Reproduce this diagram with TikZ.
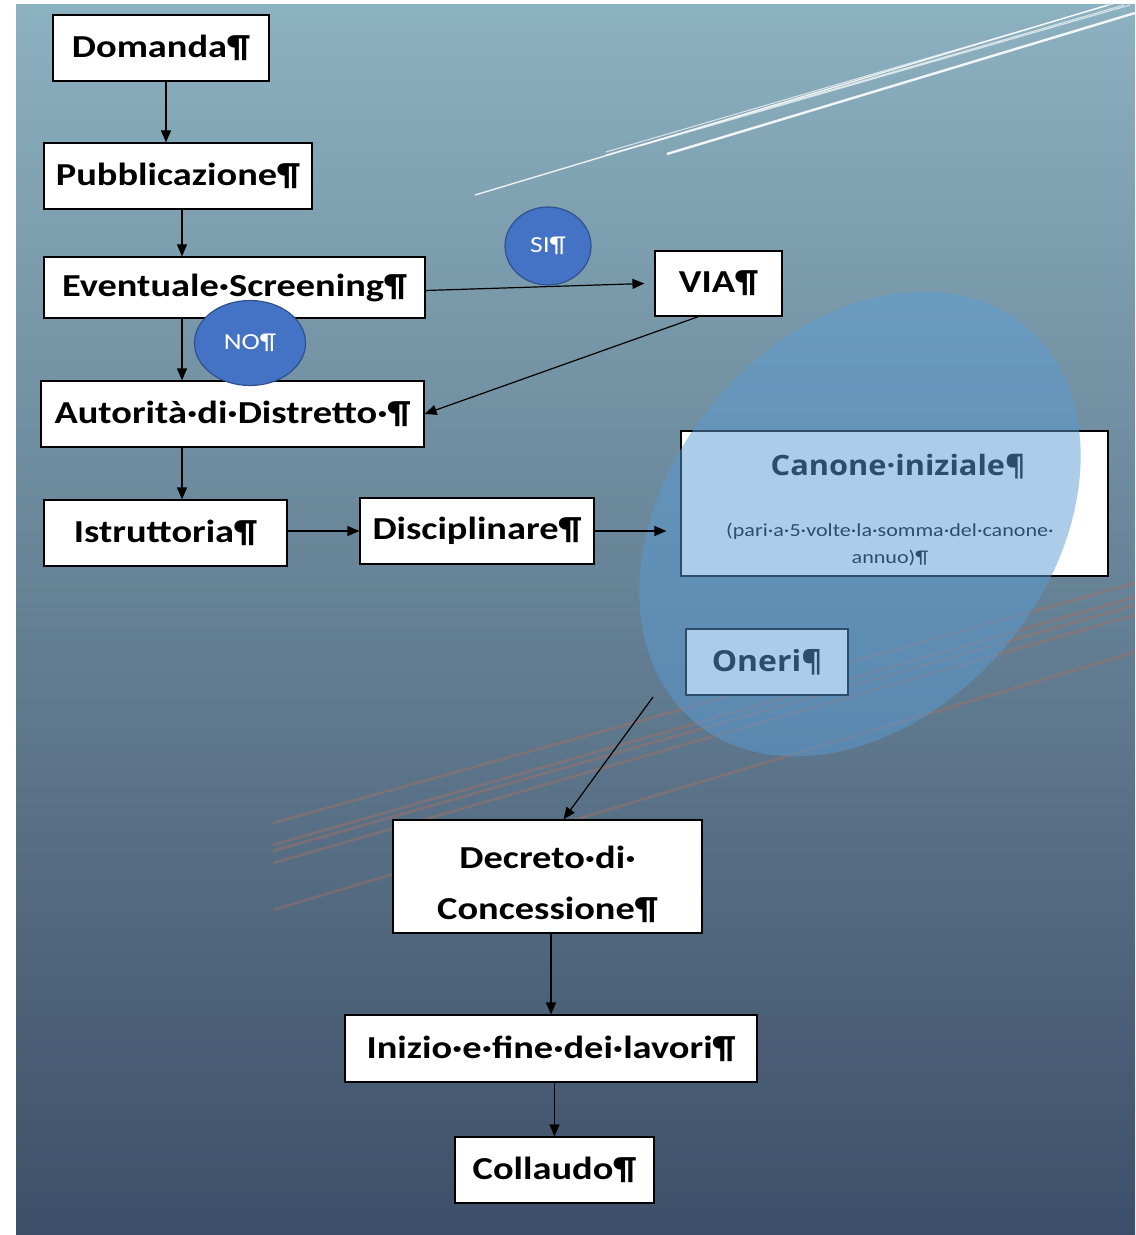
\documentclass[tikz,border=0pt]{standalone}
\usepackage{fontspec}
\setmainfont{Carlito}[FakeStretch=1.2]
\newfontfamily\titlefont{Open Sans}[FakeStretch=1.1]
\usetikzlibrary{arrows.meta,shapes.geometric}
\definecolor{bgtop}{RGB}{140,177,192}
\definecolor{bgbottom}{RGB}{61,79,104}
\definecolor{answerblue}{RGB}{68,114,196}
\definecolor{answeredge}{RGB}{47,82,143}
\definecolor{areablue}{RGB}{91,155,213}
\definecolor{streak}{RGB}{165,112,102}
\begin{document}
\begin{tikzpicture}[x=0.5pt,y=-0.5pt,>={Triangle[length=6pt,width=5pt]},
    box/.style={draw=black,line width=0.6pt,fill=white,inner sep=0pt,font=\fontsize{16}{19}\selectfont\bfseries},
    answer/.style={ellipse,draw=answeredge,line width=0.6pt,fill=answerblue,text=white,inner sep=0pt,font=\fontsize{11.5}{13}\selectfont},
    link/.style={->,line width=0.6pt}]
    % page and background
    \useasboundingbox (0,0) rectangle (1135,1235);
    \fill[white] (0,0) rectangle (1135,1235);
    \shade[top color=bgtop,bottom color=bgbottom] (16,5) rectangle (1135,1235);
    \begin{scope}
        \clip (16,5) rectangle (1135,1235);
        \draw[white,line width=0.7pt,opacity=0.85] (475,195)--(1108,5);
        \draw[white,line width=0.5pt,opacity=0.7] (606,152)--(1116,3) (606,155)--(1124,5) (640,146)--(1130,5);
        \draw[white,line width=1.2pt,opacity=0.9] (667,154)--(1135,13);
        \draw[streak,line width=1.4pt,opacity=0.45] (273,823)--(1135,583) (273,845)--(1135,597) (273,851)--(1135,605) (273,863)--(1135,615) (273,910)--(1135,652);
    \end{scope}
    % main chain
    \node[box,minimum width=108pt,minimum height=33pt] (dom) at (161,48) {Domanda¶};
    \node[box,minimum width=134pt,minimum height=33pt] (pub) at (178,176) {Pubblicazione¶};
    \node[box,minimum width=190.5pt,minimum height=30.5pt] (scr) at (234.5,287.5) {Eventuale·Screening¶};
    \node[box,minimum width=63.5pt,minimum height=32.5pt] (via) at (718.5,283.5) {VIA¶};
    \node[box,minimum width=191.5pt,minimum height=33pt] (aut) at (232.5,414) {Autorità·di·Distretto·¶};
    \node[box,minimum width=121.5pt,minimum height=33pt] (ist) at (165.5,533) {Istruttoria¶};
    \node[box,minimum width=117pt,minimum height=33pt] (dis) at (477,531) {Disciplinare¶};
    \node[box,minimum width=213.5pt,minimum height=72.5pt] (can) at (894.5,503.5) {};
    \node[anchor=base,inner sep=0pt,font=\titlefont\bfseries\fontsize{14}{17}\selectfont] (cantitle) at (898,475) {Canone·iniziale¶};
    \node[anchor=north,align=center,inner sep=0pt,font=\fontsize{9.2}{13.5}\selectfont] (cannote) at (890,523) {(pari·a·5·volte·la·somma·del·canone·\\annuo)¶};
    \node[box,minimum width=81pt,minimum height=33pt,font=\titlefont\bfseries\fontsize{14.5}{17}\selectfont] (one) at (767,662) {Oneri¶};
    \node[box,minimum width=154.5pt,minimum height=56.5pt,align=center,font=\fontsize{16}{25.5}\selectfont\bfseries] (dec) at (547.5,876.5) {\rule{0pt}{19pt}Decreto·di·\\Concessione¶};
    \node[box,minimum width=206pt,minimum height=33.5pt] (ini) at (551,1048.5) {Inizio·e·fine·dei·lavori¶};
    \node[box,minimum width=99.5pt,minimum height=33pt] (col) at (554.5,1170) {Collaudo¶};
    \coordinate (spine) at (182,0);
    \coordinate (oneriexit) at (653,697);
    % arrows
    \draw[link] ([xshift=2.5pt]dom.south) -- ([xshift=2.5pt]dom.south |- pub.north);
    \draw[link] (pub.south -| spine) -- (scr.north -| spine);
    \draw[link] (scr.south -| spine) -- (aut.north -| spine);
    \draw[link] (aut.south -| spine) -- (ist.north -| spine);
    \draw[link] ([yshift=-1.5pt]scr.east) -- ([xshift=-5pt]via.west);
    \draw[link] ([xshift=-10pt]via.south) -- (aut.east);
    \draw[link] (ist.east |- dis.west) -- (dis.west);
    \draw[link] (dec.south -| ini.north) -- (ini.north);
    \draw[link] (ini.south -| col.north) -- (col.north);
    % yes / no
    \node[answer,minimum width=43pt,minimum height=39pt] (si) at (548,246) {SI¶};
    \node[answer,minimum width=55.5pt,minimum height=42.5pt] (no) at (250,343) {NO¶};
    % area over canone and oneri
    \fill[areablue,opacity=0.5,rotate around={50:(860,524)}] (860,524) ellipse [x radius=258,y radius=190];
    \draw[link] (dis.east) -- ([xshift=-7pt]dis.east -| can.west);
    \draw[link] (oneriexit) -- ([xshift=8pt]dec.north);
\end{tikzpicture}
\end{document}
